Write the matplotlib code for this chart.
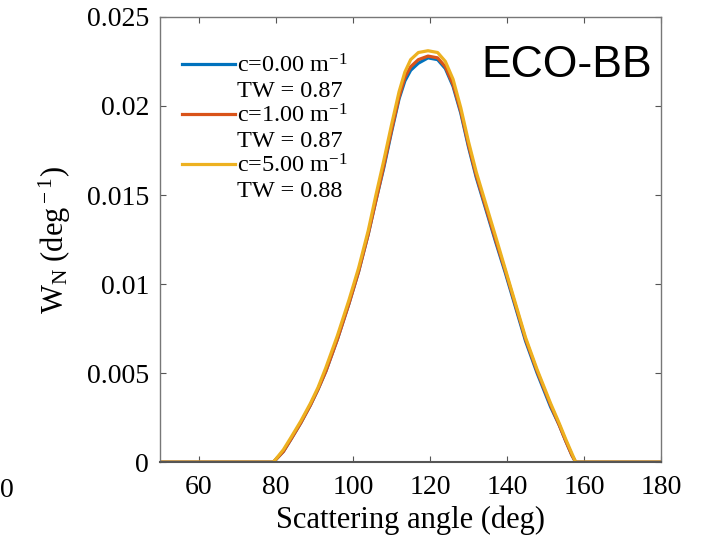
import matplotlib as mpl
import matplotlib.pyplot as plt
from matplotlib.lines import Line2D

# scattering angle (deg) and W_N (deg^-1)
angle = [50, 79.4, 82, 84, 86.5, 89, 91, 93, 96, 99,
         101.5, 104, 106, 108, 110, 112, 113.5, 115, 117, 119.5,
         122, 124, 126, 128, 130, 132, 134.5, 137, 139.6, 142.2,
         144.8, 147.8, 151.3, 153.5, 155.2, 156.8, 157.8, 180]
w_c0 = [0, 0, 0.0006, 0.0013, 0.0022, 0.0032, 0.0041, 0.0051, 0.0069, 0.0089,
        0.0107, 0.0128, 0.0147, 0.0165, 0.0185, 0.0204, 0.0214, 0.0220, 0.0224, 0.0227,
        0.0226, 0.0221, 0.0211, 0.0196, 0.0177, 0.0160, 0.0142, 0.0124, 0.0106, 0.0087,
        0.0068, 0.0050, 0.0031, 0.0021, 0.0012, 0.0004, 0, 0]
w_c1 = [0, 0, 0.0006, 0.0013, 0.0022, 0.0032, 0.0041, 0.0051, 0.0069, 0.0089,
        0.0107, 0.0128, 0.0147, 0.0166, 0.0186, 0.0205, 0.0216, 0.0222, 0.0226, 0.0228,
        0.0227, 0.0222, 0.0212, 0.0197, 0.0178, 0.0161, 0.0143, 0.0125, 0.0107, 0.0088,
        0.0069, 0.0051, 0.0032, 0.0021, 0.0012, 0.0004, 0, 0]
w_c5 = [0, 0, 0.0007, 0.0014, 0.0023, 0.0033, 0.0042, 0.0053, 0.0071, 0.0091,
        0.0109, 0.0130, 0.0150, 0.0169, 0.0189, 0.0208, 0.0219, 0.0226, 0.0230, 0.0231,
        0.0230, 0.0225, 0.0215, 0.0199, 0.0180, 0.0163, 0.0145, 0.0127, 0.0108, 0.0089,
        0.0070, 0.0052, 0.0033, 0.0022, 0.0013, 0.0005, 0, 0]
labels_c = ['c=0.00 m$^{-1}$', 'c=1.00 m$^{-1}$', 'c=5.00 m$^{-1}$']
labels_tw = ['TW = 0.87', 'TW = 0.87', 'TW = 0.88']
colors = ['#0072BD', '#D95319', '#EDB120']

mpl.rcParams.update({'font.family': 'Liberation Serif', 'mathtext.fontset': 'custom',
                     'mathtext.rm': 'Liberation Serif', 'mathtext.it': 'Liberation Serif',
                     'font.size': 20})

fig = plt.figure(figsize=(7.08, 5.45), dpi=100)
ax = fig.add_axes([0.226, 0.152, 0.708, 0.817])

lines = []
for w, c in zip([w_c0, w_c1, w_c5], colors):
    ln, = ax.plot(angle, w, color=c, lw=2.3)
    lines.append(ln)

ax.set_xlim(50, 180)
ax.set_ylim(0, 0.025)
ax.set_xticks([60, 80, 100, 120, 140, 160, 180])
ax.set_yticks([0, 0.005, 0.01, 0.015, 0.02, 0.025])
ax.set_yticklabels(['0', '0.005', '0.01', '0.015', '0.02', '0.025'])
ax.tick_params(direction='in', top=True, right=True, length=4, width=0.8,
               color='#555555', labelsize=20)
ax.tick_params(axis='y', pad=8)
ax.tick_params(axis='x', pad=9)
for s in ax.spines.values():
    s.set_color('#777777')
    s.set_linewidth(1)
ax.spines['bottom'].set_color('#555555')
ax.spines['bottom'].set_linewidth(1.5)

ax.set_xlabel('Scattering angle (deg)', fontsize=22, labelpad=4)
ax.set_ylabel(r'W$_{\rm N}$ (deg$^{\rm -1}$)', fontsize=22, labelpad=10)

blank = Line2D([], [], color='none')
handles = []
labs = []
for ln, lc, lt in zip(lines, labels_c, labels_tw):
    handles += [ln, blank]
    labs += [lc, lt]
ax.legend(handles, labs, loc='upper left', frameon=False, fontsize=17.5,
          handlelength=2.2, handletextpad=0.08, labelspacing=0.1,
          bbox_to_anchor=(0.0, 0.965), borderaxespad=0.5)

ax.text(0.982, 0.937, 'ECO-BB', transform=ax.transAxes, ha='right', va='top',
        fontsize=32, family='Liberation Sans')
fig.text(0.0, 0.1, '0', fontsize=20, va='center')

fig.savefig('out.png', dpi=100)
